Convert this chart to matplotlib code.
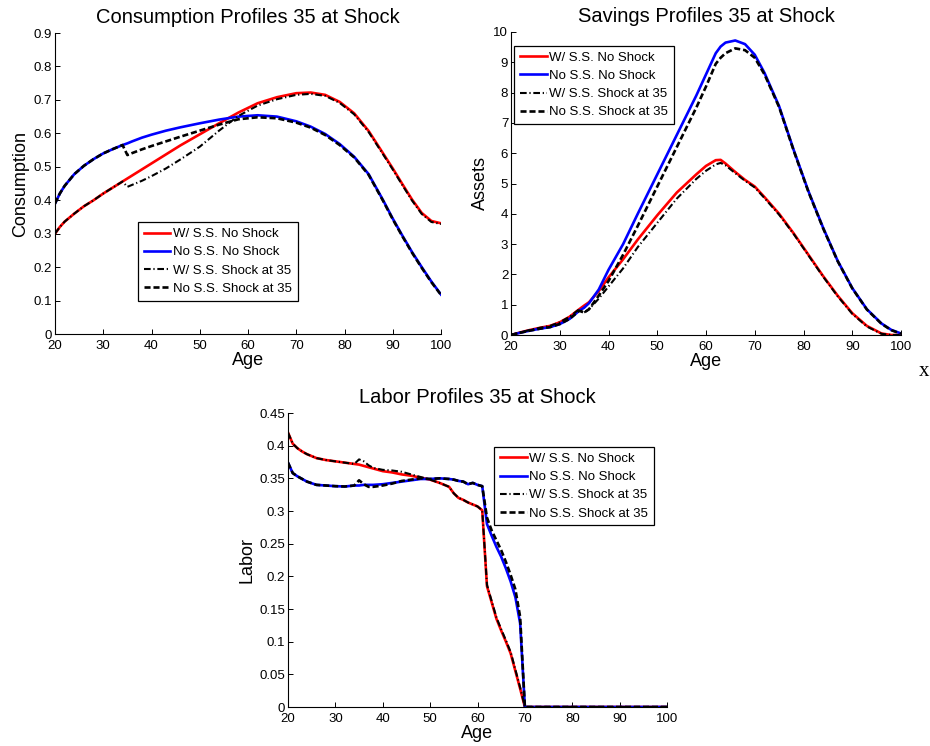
import matplotlib
matplotlib.use("Agg")
import matplotlib.pyplot as plt
from matplotlib.ticker import FormatStrFormatter

plt.rcParams['font.family'] = ['Liberation Sans', 'DejaVu Sans']

labels = ["W/ S.S. No Shock", "No S.S. No Shock", "W/ S.S. Shock at 35", "No S.S. Shock at 35"]
SHOCK_AGE = 35

# ---------------- Consumption ----------------
age_c = [20, 21, 22, 24, 26, 28, 30, 32, 34, 35, 36, 38, 40, 43, 46, 50, 54, 58, 62, 66,
         70, 73, 76, 79, 82, 85, 88, 90, 92, 94, 96, 98, 100]
cons_ss = [0.300, 0.320, 0.336, 0.360, 0.382, 0.400, 0.420, 0.438, 0.456, 0.465, 0.474, 0.492,
           0.510, 0.537, 0.564, 0.597, 0.630, 0.662, 0.690, 0.708, 0.720, 0.722, 0.715, 0.694,
           0.660, 0.607, 0.540, 0.495, 0.448, 0.402, 0.362, 0.338, 0.331]
cons_noss = [0.390, 0.420, 0.443, 0.478, 0.503, 0.523, 0.540, 0.553, 0.565, 0.570, 0.576, 0.587,
             0.596, 0.608, 0.618, 0.630, 0.641, 0.650, 0.654, 0.650, 0.636, 0.620, 0.598, 0.568,
             0.530, 0.478, 0.400, 0.345, 0.294, 0.245, 0.200, 0.157, 0.118]
# values from age 35 on (before that the shocked paths equal the baseline)
cons_ss_shock_post = [0.440, 0.446, 0.458, 0.472, 0.495, 0.522, 0.560, 0.608, 0.652, 0.683, 0.702,
                      0.715, 0.718, 0.712, 0.691, 0.657, 0.604, 0.537, 0.492, 0.445, 0.399, 0.359,
                      0.335, 0.329]
cons_noss_shock_post = [0.535, 0.541, 0.552, 0.562, 0.576, 0.590, 0.608, 0.626, 0.642, 0.648, 0.645,
                        0.632, 0.617, 0.595, 0.565, 0.528, 0.476, 0.398, 0.343, 0.292, 0.243, 0.198,
                        0.155, 0.117]

# ---------------- Savings ----------------
age_s = [20, 22, 24, 26, 28, 30, 32, 34, 35, 36, 38, 40, 43, 46, 50, 54, 58, 60, 62, 63, 64, 66,
         68, 70, 72, 75, 78, 81, 84, 87, 90, 93, 96, 98, 100]
sav_ss = [0.0, 0.09, 0.17, 0.24, 0.30, 0.42, 0.60, 0.85, 0.97, 1.08, 1.45, 1.90, 2.50, 3.15, 3.95,
          4.70, 5.30, 5.58, 5.77, 5.78, 5.66, 5.38, 5.12, 4.90, 4.55, 4.00, 3.35, 2.65, 1.95, 1.30,
          0.72, 0.30, 0.05, 0.0, 0.0]
sav_noss = [0.0, 0.08, 0.15, 0.21, 0.26, 0.36, 0.53, 0.80, 0.90, 1.05, 1.50, 2.15, 3.00, 4.00, 5.30,
            6.60, 7.90, 8.60, 9.30, 9.52, 9.65, 9.72, 9.60, 9.25, 8.65, 7.55, 6.10, 4.75, 3.55, 2.45,
            1.55, 0.85, 0.38, 0.17, 0.05]
sav_ss_shock_post = [0.74, 0.85, 1.20, 1.60, 2.20, 2.90, 3.70, 4.50, 5.15, 5.42, 5.63, 5.68, 5.60,
                     5.34, 5.09, 4.87, 4.52, 3.97, 3.33, 2.63, 1.93, 1.28, 0.70, 0.28, 0.04, 0.0, 0.0]
sav_noss_shock_post = [0.74, 0.85, 1.30, 1.78, 2.65, 3.60, 4.90, 6.20, 7.50, 8.20, 8.95, 9.15, 9.30,
                       9.46, 9.40, 9.15, 8.60, 7.52, 6.08, 4.73, 3.53, 2.44, 1.54, 0.84, 0.37, 0.16, 0.04]

# ---------------- Labor ----------------
age_l = [20, 21, 22, 23, 24, 26, 28, 30, 32, 34, 35, 36, 37, 38, 40, 42, 44, 46, 48, 50, 52, 54,
         55, 56, 57, 58, 59, 60, 61, 62, 63, 64, 65, 66, 67, 68, 69, 70, 71, 80, 90, 100]
lab_ss = [0.420, 0.403, 0.396, 0.391, 0.387, 0.381, 0.378, 0.376, 0.374, 0.372, 0.371, 0.369, 0.367,
          0.365, 0.361, 0.359, 0.356, 0.354, 0.351, 0.348, 0.343, 0.337, 0.327, 0.320, 0.317, 0.313,
          0.310, 0.307, 0.301, 0.185, 0.160, 0.135, 0.117, 0.100, 0.082, 0.055, 0.028, 0.0, 0.0,
          0.0, 0.0, 0.0]
lab_noss = [0.374, 0.358, 0.353, 0.349, 0.345, 0.340, 0.339, 0.338, 0.3375, 0.339, 0.339, 0.340,
            0.340, 0.340, 0.341, 0.343, 0.345, 0.347, 0.349, 0.349, 0.350, 0.349, 0.348, 0.346,
            0.345, 0.341, 0.343, 0.340, 0.338, 0.280, 0.262, 0.245, 0.230, 0.212, 0.192, 0.168,
            0.128, 0.0, 0.0, 0.0, 0.0, 0.0]
lab_ss_shock_post = [0.379, 0.376, 0.370, 0.366, 0.363, 0.362, 0.360, 0.356, 0.352, 0.348, 0.343,
                     0.337, 0.327, 0.320, 0.317, 0.313, 0.310, 0.307, 0.301, 0.187, 0.162, 0.137,
                     0.119, 0.102, 0.084, 0.057, 0.030, 0.0, 0.0, 0.0, 0.0, 0.0]
lab_noss_shock_post = [0.347, 0.341, 0.337, 0.337, 0.339, 0.342, 0.346, 0.348, 0.350, 0.349, 0.350,
                       0.349, 0.348, 0.346, 0.345, 0.341, 0.343, 0.340, 0.338, 0.290, 0.270, 0.255,
                       0.240, 0.222, 0.202, 0.180, 0.138, 0.0, 0.0, 0.0, 0.0, 0.0]


def shocked(age, base, post):
    i = age.index(SHOCK_AGE)
    return base[:i] + post


fig = plt.figure(figsize=(9.3, 7.46), dpi=100)

W, H = 930.0, 746.0


def make_axes(l, r, t, b):
    return fig.add_axes([l / W, 1 - b / H, (r - l) / W, (b - t) / H])


def draw(ax, age, ss, noss, ss_post, noss_post, title, ylabel, ylim, yticks, leg_anchor):
    ax.plot(age, ss, color=(1, 0, 0), lw=1.9, label=labels[0], zorder=2)
    ax.plot(age, noss, color=(0, 0, 1), lw=1.9, label=labels[1], zorder=2)
    ax.plot(age, shocked(age, ss, ss_post), color='black', lw=1.5,
            dashes=(3.2, 1.3, 0.6, 1.3), label=labels[2], zorder=3)
    ax.plot(age, shocked(age, noss, noss_post), color='black', lw=1.9,
            dashes=(2.3, 1.1), label=labels[3], zorder=3)
    ax.set_xlim(20, 100)
    ax.set_ylim(*ylim)
    ax.set_xticks(range(20, 101, 10))
    ax.set_yticks(yticks)
    ax.yaxis.set_major_formatter(FormatStrFormatter('%g'))
    for s in ('top', 'right'):
        ax.spines[s].set_visible(False)
    for s in ('left', 'bottom'):
        ax.spines[s].set_linewidth(0.8)
    ax.tick_params(direction='in', length=3.5, width=0.7, labelsize=9.5)
    ax.tick_params(axis='x', pad=4.2)
    ax.tick_params(axis='y', pad=2)
    ax.set_title(title, fontsize=14.5, pad=7)
    ax.set_xlabel("Age", fontsize=13, labelpad=0.3)
    ax.set_ylabel(ylabel, fontsize=13, labelpad=3)
    leg = ax.legend(loc='upper left', bbox_to_anchor=leg_anchor, borderaxespad=0,
                    fontsize=9.5, handlelength=2.0, handletextpad=0.2, labelspacing=0.45,
                    borderpad=0.45, fancybox=False, framealpha=1, edgecolor='black')
    leg.get_frame().set_linewidth(0.9)


ax1 = make_axes(55, 441, 33, 334)
draw(ax1, age_c, cons_ss, cons_noss, cons_ss_shock_post, cons_noss_shock_post,
     "Consumption Profiles 35 at Shock", "Consumption", (0, 0.9),
     [0, 0.1, 0.2, 0.3, 0.4, 0.5, 0.6, 0.7, 0.8, 0.9], (0.215, 0.372))

ax2 = make_axes(511, 901, 32, 335)
draw(ax2, age_s, sav_ss, sav_noss, sav_ss_shock_post, sav_noss_shock_post,
     "Savings Profiles 35 at Shock", "Assets", (0, 10), list(range(0, 11)), (0.0085, 0.955))

ax3 = make_axes(288, 667, 413, 707)
draw(ax3, age_l, lab_ss, lab_noss, lab_ss_shock_post, lab_noss_shock_post,
     "Labor Profiles 35 at Shock", "Labor", (0, 0.45),
     [0, 0.05, 0.1, 0.15, 0.2, 0.25, 0.3, 0.35, 0.4, 0.45], (0.544, 0.885))

fig.text(924 / W, 1 - 371 / H, "x", family=['Liberation Serif', 'DejaVu Serif'],
         fontsize=15, ha='center', va='center')

fig.savefig("out.png", dpi=100)
